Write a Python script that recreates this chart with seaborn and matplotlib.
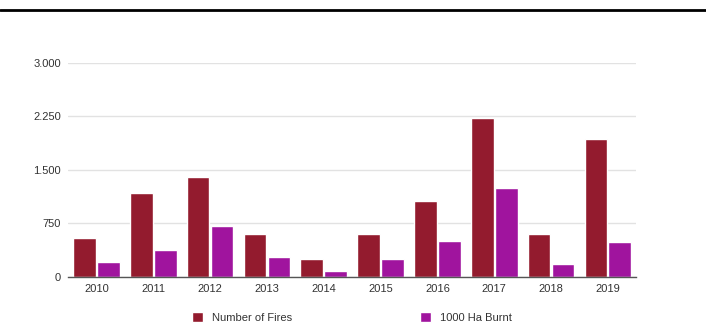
import pandas as pd
import numpy as np
import matplotlib.pyplot as plt
import seaborn as sns
from matplotlib.ticker import FuncFormatter
from matplotlib.lines import Line2D

years = ["2010", "2011", "2012", "2013", "2014", "2015", "2016", "2017", "2018", "2019"]
number_of_fires = [546, 1176, 1408, 606, 252, 606, 1064, 2235, 606, 1941]
ha_burnt = [205, 378, 714, 284, 88, 247, 504, 1241, 182, 490]
series_names = ["Number of Fires", "1000 Ha Burnt"]

df = pd.DataFrame({
    "year": years * 2,
    "value": number_of_fires + ha_burnt,
    "serie": [series_names[0]] * len(years) + [series_names[1]] * len(years),
})

sns.set_style("white")
plt.rcParams["font.family"] = ["Liberation Sans", "DejaVu Sans"]

fig = plt.figure(figsize=(7.06, 3.25), dpi=100)
ax = fig.add_axes([0.0963, 0.1477, 0.805, 0.6585])

sns.barplot(data=df, x="year", y="value", hue="serie", order=years,
            palette=["#931B2E", "#A0149E"], width=0.84, gap=0.05,
            saturation=1, ax=ax)

ax.set_ylim(0, 3000)
ax.set_xlim(-0.5, 9.5)
ax.set_yticks([0, 750, 1500, 2250, 3000])
ax.yaxis.set_major_formatter(FuncFormatter(lambda v, p: f"{int(v):,}".replace(",", ".")))
ax.grid(axis="y", color="#e2e2e2", linewidth=1)
ax.set_axisbelow(True)
for s in ["top", "right", "left"]:
    ax.spines[s].set_visible(False)
ax.spines["bottom"].set_color("#555555")
ax.spines["bottom"].set_linewidth(1)
ax.tick_params(axis="both", length=0, labelsize=8, colors="#333333", pad=5)
ax.set_xlabel("")
ax.set_ylabel("")

ax.legend(loc="upper center", bbox_to_anchor=(0.5, -0.115), ncol=2, frameon=False,
          fontsize=8, handlelength=1.0, handleheight=1.1, columnspacing=11.5,
          handletextpad=0.8, labelcolor="#333333")

# linha preta no topo
fig.add_artist(Line2D([0, 1], [0.969, 0.969], color="black", linewidth=2))

fig.savefig("out.png", dpi=100)
